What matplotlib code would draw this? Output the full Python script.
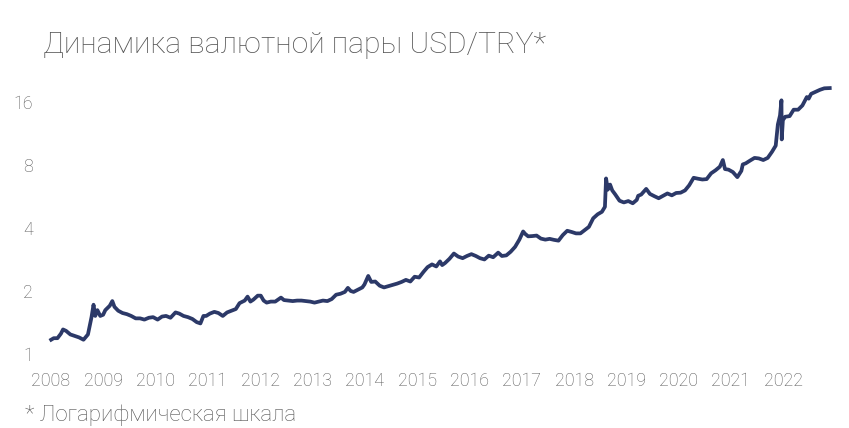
import pandas as pd
import matplotlib
matplotlib.use("Agg")
import matplotlib.pyplot as plt

# Курс USD/TRY
dates = [
    "2008-01-02", "2008-01-20", "2008-02-15", "2008-03-10", "2008-03-25", "2008-04-15",
    "2008-05-15", "2008-06-15", "2008-07-15", "2008-08-15", "2008-09-15", "2008-10-10",
    "2008-10-24", "2008-11-05", "2008-11-20", "2008-12-10", "2008-12-30",
    "2009-01-15", "2009-02-15", "2009-03-05", "2009-03-20", "2009-04-15", "2009-05-15",
    "2009-06-15", "2009-07-15", "2009-08-15", "2009-09-15", "2009-10-15", "2009-11-15",
    "2009-12-15",
    "2010-01-15", "2010-02-15", "2010-03-15", "2010-04-15", "2010-05-20", "2010-06-15",
    "2010-07-15", "2010-08-15", "2010-09-15", "2010-10-15", "2010-11-10", "2010-12-01",
    "2010-12-20",
    "2011-01-15", "2011-02-15", "2011-03-15", "2011-04-15", "2011-05-15", "2011-06-15",
    "2011-07-15", "2011-08-10", "2011-09-15", "2011-10-05", "2011-10-25", "2011-11-15",
    "2011-12-15",
    "2012-01-05", "2012-01-25", "2012-02-15", "2012-03-15", "2012-04-15", "2012-05-25",
    "2012-06-15", "2012-07-15", "2012-08-15", "2012-09-15", "2012-10-15", "2012-11-15",
    "2012-12-15",
    "2013-01-15", "2013-02-15", "2013-03-15", "2013-04-15", "2013-05-15", "2013-06-15",
    "2013-07-15", "2013-08-15", "2013-09-05", "2013-09-25", "2013-10-15", "2013-11-15",
    "2013-12-15", "2013-12-30",
    "2014-01-25", "2014-02-15", "2014-03-15", "2014-04-15", "2014-05-15", "2014-06-15",
    "2014-07-15", "2014-08-15", "2014-09-15", "2014-10-15", "2014-11-15", "2014-12-15",
    "2015-01-15", "2015-02-15", "2015-03-15", "2015-04-15", "2015-05-15", "2015-06-10",
    "2015-06-25", "2015-07-15", "2015-08-15", "2015-09-15", "2015-10-15", "2015-11-15",
    "2015-12-15",
    "2016-01-15", "2016-02-15", "2016-03-15", "2016-04-15", "2016-05-15", "2016-06-15",
    "2016-07-20", "2016-08-15", "2016-09-15", "2016-10-15", "2016-11-15", "2016-12-15",
    "2017-01-11", "2017-01-25", "2017-02-15", "2017-03-15", "2017-04-15", "2017-05-15",
    "2017-06-15", "2017-07-15", "2017-08-15", "2017-09-15", "2017-10-15", "2017-11-15",
    "2017-12-15",
    "2018-01-15", "2018-02-15", "2018-03-15", "2018-04-15", "2018-05-15", "2018-06-15",
    "2018-07-15", "2018-08-05", "2018-08-13", "2018-08-25", "2018-09-10", "2018-09-25",
    "2018-10-15", "2018-11-15", "2018-12-15",
    "2019-01-15", "2019-02-15", "2019-03-15", "2019-03-25", "2019-04-15", "2019-05-20",
    "2019-06-15", "2019-07-15", "2019-08-15", "2019-09-15", "2019-10-15", "2019-11-15",
    "2019-12-15",
    "2020-01-15", "2020-02-15", "2020-03-15", "2020-04-15", "2020-05-15", "2020-06-15",
    "2020-07-15", "2020-08-15", "2020-09-15", "2020-10-15", "2020-11-05", "2020-11-20",
    "2020-12-15",
    "2021-01-15", "2021-02-15", "2021-03-15", "2021-03-25", "2021-04-15", "2021-05-15",
    "2021-06-15", "2021-07-15", "2021-08-15", "2021-09-15", "2021-10-15", "2021-11-10",
    "2021-11-25", "2021-12-10", "2021-12-20", "2021-12-22", "2021-12-30",
    "2022-01-15", "2022-02-15", "2022-03-15", "2022-04-15", "2022-05-15", "2022-06-15",
    "2022-06-28", "2022-07-15", "2022-08-15", "2022-09-15", "2022-10-15", "2022-11-22",
]
usdtry = [
    1.17, 1.19, 1.19, 1.25, 1.31, 1.29,
    1.24, 1.22, 1.20, 1.17, 1.24, 1.50,
    1.72, 1.52, 1.62, 1.52, 1.54,
    1.62, 1.70, 1.79, 1.68, 1.61, 1.57,
    1.55, 1.52, 1.48, 1.48, 1.46, 1.49,
    1.50,
    1.46, 1.51, 1.52, 1.49, 1.58, 1.56,
    1.52, 1.50, 1.47, 1.42, 1.40, 1.52,
    1.52,
    1.56, 1.59, 1.57, 1.52, 1.58, 1.61,
    1.64, 1.75, 1.80, 1.88, 1.78, 1.82,
    1.90,
    1.90, 1.80, 1.76, 1.78, 1.78, 1.86,
    1.81, 1.80, 1.79, 1.80, 1.80, 1.79,
    1.78,
    1.76, 1.78, 1.80, 1.79, 1.83, 1.92,
    1.94, 1.98, 2.07, 2.00, 1.98, 2.03,
    2.08, 2.15,
    2.36, 2.21, 2.22, 2.12, 2.08, 2.11,
    2.14, 2.17, 2.21, 2.26, 2.22, 2.34,
    2.32, 2.47, 2.60, 2.68, 2.62, 2.77,
    2.66, 2.72, 2.85, 3.02, 2.92, 2.87,
    2.94,
    3.00, 2.94, 2.87, 2.83, 2.95, 2.90,
    3.05, 2.94, 2.96, 3.08, 3.25, 3.52,
    3.85, 3.75, 3.65, 3.66, 3.68, 3.56,
    3.52, 3.55, 3.51, 3.48, 3.70, 3.88,
    3.83,
    3.77, 3.77, 3.90, 4.05, 4.45, 4.65,
    4.78, 5.05, 6.90, 6.10, 6.45, 6.05,
    5.80, 5.40, 5.30,
    5.38, 5.25, 5.45, 5.70, 5.78, 6.15,
    5.82, 5.68, 5.55, 5.70, 5.85, 5.73,
    5.88,
    5.90, 6.05, 6.40, 6.95, 6.88, 6.82,
    6.85, 7.30, 7.55, 7.85, 8.45, 7.65,
    7.60,
    7.40, 7.00, 7.50, 8.05, 8.15, 8.40,
    8.65, 8.60, 8.45, 8.65, 9.25, 9.90,
    12.5, 13.8, 16.3, 10.6, 13.1,
    13.6, 13.7, 14.7, 14.7, 15.4, 16.9,
    16.6, 17.5, 17.9, 18.3, 18.6, 18.65,
]
years = list(range(2008, 2023))
y_ticks = [1, 2, 4, 8, 16]

plt.rcParams['font.family'] = ['Roboto', 'DejaVu Sans']

d = pd.to_datetime(dates)
x = d.year + (d.dayofyear - 1) / 365.25

fig = plt.figure(figsize=(8.49, 4.28), dpi=100)
W, H = 849, 428
# границы осей в пикселях
left, right, top, bottom = 40, 840, 75, 365
ax = fig.add_axes([left / W, 1 - bottom / H, (right - left) / W, (bottom - top) / H])

ax.plot(x, usdtry, color='#2c3968', linewidth=2.7, solid_joinstyle='round')
ax.set_yscale('log', base=2)
ax.set_ylim(2 ** (-11 / 63), 2 ** (279 / 63))
ax.set_xlim(2008 - 11 / 52.3, 2008 + 789 / 52.3)

ax.set_yticks(y_ticks)
ax.set_yticklabels([str(v) for v in y_ticks])
ax.minorticks_off()
ax.set_xticks(years)
ax.set_xticklabels([str(v) for v in years])

ax.tick_params(axis='both', length=0, labelsize=12.9, labelcolor='#5a5a5a')
ax.tick_params(axis='y', pad=5)
ax.tick_params(axis='x', pad=5)
for lbl in ax.get_xticklabels() + ax.get_yticklabels():
    lbl.set_fontweight('light')
for s in ax.spines.values():
    s.set_visible(False)

fig.text(43 / W, 1 - 53 / H, 'Динамика валютной пары USD/TRY*', fontsize=21.6,
         fontweight='light', color='#555555', va='baseline', ha='left')
fig.text(25 / W, 1 - 421 / H, '* Логарифмическая шкала', fontsize=16,
         fontweight='light', color='#555555', va='baseline', ha='left')

fig.savefig('out.png', dpi=100)
